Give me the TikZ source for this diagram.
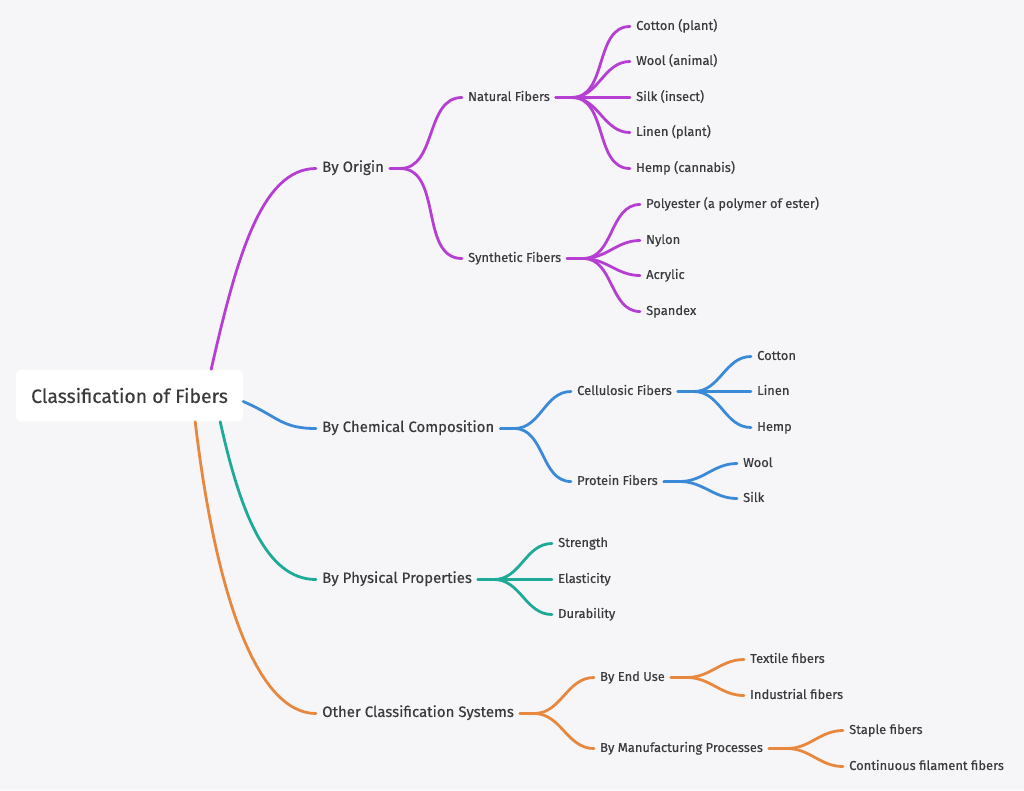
\documentclass[tikz,border=0pt]{standalone}
\usepackage{fontspec}
\setmainfont{Fira Sans}[FakeBold=0.35,UprightFont=*,BoldFont=*]
\definecolor{bg}{HTML}{F6F6F8}
\definecolor{txt}{HTML}{3A3A3C}
\definecolor{cpur}{HTML}{B63FD3}
\definecolor{cblu}{HTML}{3B8AD8}
\definecolor{ctea}{HTML}{1FAA98}
\definecolor{cora}{HTML}{E8883F}
\begin{document}
\begin{tikzpicture}[x=1pt,y=-1pt,
  lab/.style={anchor=west,inner xsep=6pt,inner ysep=0pt,text height=0.69em,text depth=0pt,text=txt,font=\fontsize{12.9}{14}\selectfont},
  l1/.style={lab,font=\fontsize{15}{17}\selectfont},
  rootbox/.style={fill=white,rounded corners=6pt,minimum width=227pt,minimum height=52pt,inner sep=0pt,text=txt,font=\fontsize{19.4}{21}\selectfont},
  link/.style={line width=2.8pt,line cap=round}]
\fill[bg] (0,0) rectangle (1024,790);
\useasboundingbox (0,0) rectangle (1024,790);
\begin{scope}[yshift=-1.5pt]
% root
\node[rootbox] (root) at (129.5,394) {Classification of Fibers};

% level 1
\node[l1] (orig) at (316,167) {By Origin};
\node[l1] (chem) at (316,427) {By Chemical Composition};
\node[l1] (phys) at (316,578) {By Physical Properties};
\node[l1] (other) at (316,712) {Other Classification Systems};

% level 2
\node[lab] (nat) at (462,96) {Natural Fibers};
\node[lab] (syn) at (462,257) {Synthetic Fibers};
\node[lab] (cell) at (571,390) {Cellulosic Fibers};
\node[lab] (prot) at (571,480) {Protein Fibers};
\node[lab] (str) at (552,542) {Strength};
\node[lab] (ela) at (552,578) {Elasticity};
\node[lab] (dur) at (552,613) {Durability};
\node[lab] (enduse) at (594,676) {By End Use};
\node[lab] (manu) at (594,747) {By Manufacturing Processes};

% level 3
\node[lab] (cotp) at (630,25) {Cotton (plant)};
\node[lab] (woola) at (630,60) {Wool (animal)};
\node[lab] (silki) at (630,96) {Silk (insect)};
\node[lab] (linp) at (630,131) {Linen (plant)};
\node[lab] (hemc) at (630,167) {Hemp (cannabis)};
\node[lab] (poly) at (640,203) {Polyester (a polymer of ester)};
\node[lab] (nyl) at (640,239) {Nylon};
\node[lab] (acr) at (640,274) {Acrylic};
\node[lab] (spa) at (640,310) {Spandex};
\node[lab] (cot) at (751,355) {Cotton};
\node[lab] (lin) at (751,390) {Linen};
\node[lab] (hem) at (751,426) {Hemp};
\node[lab] (woo) at (737,462) {Wool};
\node[lab] (sil) at (737,497) {Silk};
\node[lab] (tex) at (744,658) {Textile fibers};
\node[lab] (ind) at (744,694) {Industrial fibers};
\node[lab] (sta) at (843,729) {Staple fibers};
\node[lab] (con) at (843,765) {Continuous filament fibers};

% root branches
\draw[link,cpur] ([xshift=-32pt]root.north east) .. controls +(25,-110) and +(-55,0) .. (orig.west);
\draw[link,cblu] ([yshift=-6pt]root.east) .. controls +(35,15) and +(-35,0) .. (chem.west);
\draw[link,ctea] ([xshift=-23pt]root.south east) .. controls +(20,90) and +(-50,0) .. (phys.west);
\draw[link,cora] ([xshift=-48pt]root.south east) .. controls +(20,170) and +(-60,0) .. (other.west);

% purple
\foreach \c in {nat,syn}
  \draw[link,cpur] (orig.east) -- ++(10,0) to[out=0,in=180] (\c.west);
\foreach \c in {cotp,woola,silki,linp,hemc}
  \draw[link,cpur] (nat.east) -- ++(16,0) to[out=0,in=180] (\c.west);
\foreach \c in {poly,nyl,acr,spa}
  \draw[link,cpur] (syn.east) -- ++(16,0) to[out=0,in=180] (\c.west);

% blue
\foreach \c in {cell,prot}
  \draw[link,cblu] (chem.east) -- ++(14,0) to[out=0,in=180] (\c.west);
\foreach \c in {cot,lin,hem}
  \draw[link,cblu] (cell.east) -- ++(16,0) to[out=0,in=180] (\c.west);
\foreach \c in {woo,sil}
  \draw[link,cblu] (prot.east) -- ++(16,0) to[out=0,in=180] (\c.west);

% teal
\foreach \c in {str,ela,dur}
  \draw[link,ctea] (phys.east) -- ++(16,0) to[out=0,in=180] (\c.west);

% orange
\foreach \c in {enduse,manu}
  \draw[link,cora] (other.east) -- ++(14,0) to[out=0,in=180] (\c.west);
\foreach \c in {tex,ind}
  \draw[link,cora] (enduse.east) -- ++(16,0) to[out=0,in=180] (\c.west);
\foreach \c in {sta,con}
  \draw[link,cora] (manu.east) -- ++(18,0) to[out=0,in=180] (\c.west);
\end{scope}
\end{tikzpicture}
\end{document}
